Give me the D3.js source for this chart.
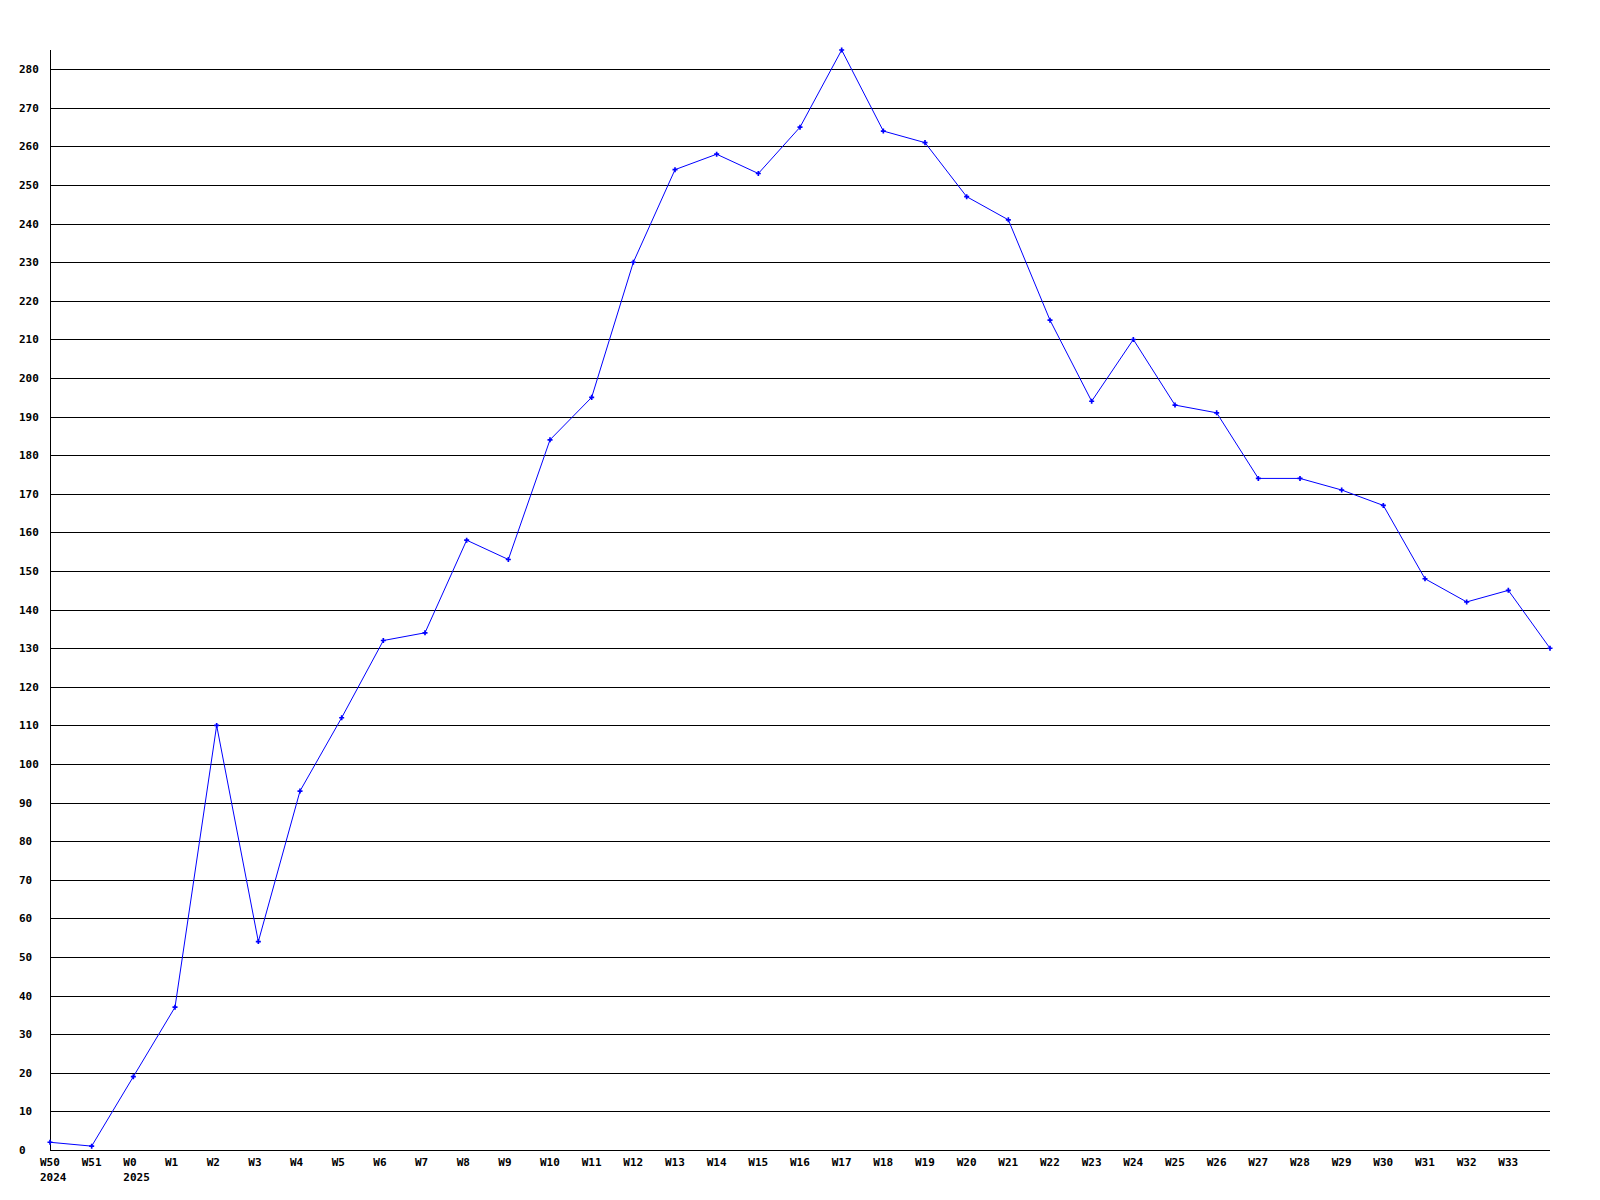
<!DOCTYPE html>
<html>
<head>
<meta charset="utf-8">
<script src="https://cdn.jsdelivr.net/npm/d3@7"></script>
<style>
  html, body { margin: 0; padding: 0; background: #ffffff; }
  svg { display: block; }
  text { font-family: "DejaVu Sans Mono", "Liberation Mono", monospace; font-weight: bold; font-size: 11px; fill: #000; }
</style>
</head>
<body>
<script>
// ---- data ----
const weeks = ["W50","W51","W0","W1","W2","W3","W4","W5","W6","W7","W8","W9","W10","W11","W12","W13","W14","W15","W16","W17","W18","W19","W20","W21","W22","W23","W24","W25","W26","W27","W28","W29","W30","W31","W32","W33","W34"];
const values = [2,1,19,37,110,54,93,112,132,134,158,153,184,195,230,254,258,253,265,285,264,261,247,241,215,194,210,193,191,174,174,171,167,148,142,145,130];
const labelledWeeks = weeks.slice(0, 36);
const yearLabels = [["W50","2024"],["W0","2025"]];
const yTicks = d3.range(0, 290, 10);

// ---- layout ----
const W = 1600, H = 1200;
const mLeft = 50, mRight = 1550, mTop = 50, mBottom = 1150;

const svg = d3.select("body").append("svg").attr("width", W).attr("height", H);

const x = d3.scalePoint().domain(weeks).range([mLeft, mRight]);
const y = d3.scaleLinear().domain([0, 285]).range([mBottom, mTop]);

// gridlines
svg.append("g").selectAll("line").data(yTicks.filter(d => d > 0)).join("line")
  .attr("x1", mLeft).attr("x2", mRight)
  .attr("y1", d => Math.round(y(d)) + 0.5).attr("y2", d => Math.round(y(d)) + 0.5)
  .attr("stroke", "#000").attr("stroke-width", 1).attr("shape-rendering", "crispEdges");

// axes lines
svg.append("line").attr("x1", mLeft + 0.5).attr("x2", mLeft + 0.5).attr("y1", mTop).attr("y2", mBottom + 1)
  .attr("stroke", "#000").attr("shape-rendering", "crispEdges");
svg.append("line").attr("x1", mLeft).attr("x2", mRight).attr("y1", mBottom + 0.5).attr("y2", mBottom + 0.5)
  .attr("stroke", "#000").attr("shape-rendering", "crispEdges");

// y labels
svg.append("g").selectAll("text").data(yTicks).join("text")
  .attr("x", 19).attr("y", d => y(d) + 4)
  .text(d => d);

// x labels
svg.append("g").selectAll("text").data(labelledWeeks).join("text")
  .attr("x", d => x(d) - 10).attr("y", 1166)
  .text(d => d);
svg.append("g").selectAll("text").data(yearLabels).join("text")
  .attr("x", d => x(d[0]) - 10).attr("y", 1181)
  .text(d => d[1]);

// line
const line = d3.line().x((d, i) => x(weeks[i])).y(d => y(d));
svg.append("path").datum(values).attr("d", line)
  .attr("fill", "none").attr("stroke", "#0000ff").attr("stroke-width", 1);

// markers
svg.append("g").selectAll("path").data(values).join("path")
  .attr("transform", (d, i) => `translate(${x(weeks[i])},${y(d)})`)
  .attr("d", d3.symbol(d3.symbolCross, 14))
  .attr("fill", "#0000ff");
</script>
</body>
</html>
